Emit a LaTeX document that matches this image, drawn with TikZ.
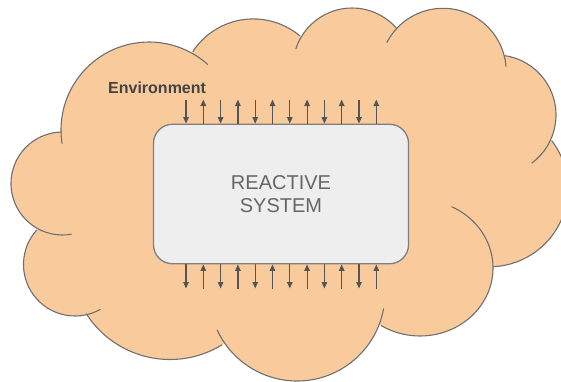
\documentclass[tikz,border=0pt]{standalone}
\usepackage{fontspec}
\setmainfont{Liberation Sans}
\usepackage{tikz}
\usetikzlibrary{arrows.meta}

\definecolor{cloudfill}{HTML}{F9CB9C}
\definecolor{cloudedge}{HTML}{6F6F6F}
\definecolor{sysfill}{HTML}{EEEEEE}
\definecolor{sysedge}{HTML}{7F7F7F}
\definecolor{systext}{HTML}{666666}
\definecolor{envtext}{HTML}{434343}
\definecolor{sigline}{HTML}{555555}

\tikzset{
	puff/.style={fill=cloudfill, draw=none},
	puffedge/.style={draw=cloudedge, line width=1.1pt},
	sysbox/.style={draw=sysedge, fill=sysfill, line width=1.3pt, rounded corners=19pt,
		minimum width=255pt, minimum height=139.5pt, inner sep=0pt, align=center,
		text=systext, font=\fontsize{20}{23}\selectfont},
	envlabel/.style={text=envtext, font=\fontsize{16}{19}\selectfont\bfseries, inner sep=0pt},
	sig/.style={draw=sigline, line width=1.2pt, -{Triangle[length=6.5pt,width=5.5pt]}}
}
\def\puffarc(#1)(#2:#3:#4){\draw[puffedge] (#1) ++(#2:#4) arc (#2:#3:#4);}

\begin{document}
\begin{tikzpicture}[x=1pt, y=-1pt]
			%%%%% START %%%%%
			\useasboundingbox (0, 0) rectangle (561, 381);
			\clip (0, 0) rectangle (561, 381);
			
			% bump centres of the cloud
			\coordinate (cA) at (149, 130);
			\coordinate (cB) at (253.3, 91.3);
			\coordinate (cD) at (352, 67);
			\coordinate (cE) at (443, 71.5);
			\coordinate (cF) at (496, 115);
			\coordinate (cG) at (489.5, 188.4);
			\coordinate (cH) at (420, 268);
			\coordinate (cI) at (297, 293);
			\coordinate (cJ) at (170, 260);
			\coordinate (cK) at (75, 264.5);
			\coordinate (cC) at (62.5, 183.5);
			
			\fill[puff] (cA) -- (cB) -- (cD) -- (cE) -- (cF) -- (cG) -- (cH) -- (cI) -- (cJ) -- (cK) -- (cC) -- cycle;
			\fill[puff] (cA) circle (88);
			\fill[puff] (cB) circle (72.4);
			\fill[puff] (cD) circle (59);
			\fill[puff] (cE) circle (63.2);
			\fill[puff] (cF) circle (60);
			\fill[puff] (cG) circle (78.4);
			\fill[puff] (cH) circle [x radius=73, y radius=68];
			\fill[puff] (cI) circle (88);
			\fill[puff] (cJ) circle (99.5);
			\fill[puff] (cK) circle (51.5);
			\fill[puff] (cC) circle (51.5);
			
			\puffarc(cA)(171.1:311.9:88)
			\puffarc(cB)(213.2:310.2:72.4)
			\puffarc(cD)(197.7:318.7:59)
			\puffarc(cE)(207.1:355.6:63.2)
			\puffarc(cF)(278.7:413.5:60)
			\puffarc(cG)(322.5:447.2:78.4)
			\puffarc(cH)(295.7:482.4:73 and 68)
			\puffarc(cI)(10.1:155.3:88)
			\puffarc(cJ)(58.4:147.4:99.5)
			\puffarc(cK)(60.5:222:51.5)
			\puffarc(cC)(79.9:269.1:51.5)
			
			\node[envlabel, anchor=base west] (env) at (108, 93) {Environment};
			\node[sysbox] (sys) at (281, 194) {REACTIVE\\SYSTEM};
			
			\foreach \i in {0,...,11} {
				\coordinate (up\i) at ({186+17.3*\i}, 99.5);
				\coordinate (dn\i) at ({186+17.3*\i}, 288.5);
			}
			\foreach \i in {0,2,...,10} {
				\draw[sig] (up\i) -- (up\i |- sys.north);
				\draw[sig] (dn\i |- sys.south) -- (dn\i);
			}
			\foreach \i in {1,3,...,11} {
				\draw[sig] (up\i |- sys.north) -- (up\i);
				\draw[sig] (dn\i) -- (dn\i |- sys.south);
			}
			%%%%% END %%%%%
\end{tikzpicture}
\end{document}
